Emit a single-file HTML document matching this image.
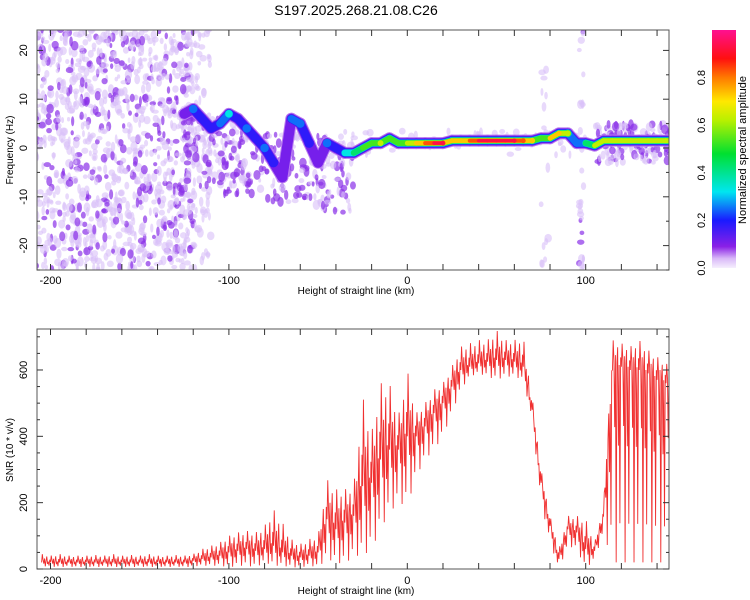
<!DOCTYPE html>
<html><head><meta charset="utf-8"><style>
html,body{margin:0;padding:0;background:#fff;}
svg{display:block;font-family:"Liberation Sans",sans-serif;}
</style></head><body>
<svg id="chart" width="750" height="600" viewBox="0 0 750 600">
<defs>
<linearGradient id="cbar" x1="0" y1="1" x2="0" y2="0">
<stop offset="0" stop-color="#f6effd"/><stop offset="0.04" stop-color="#d9b8f8"/><stop offset="0.09" stop-color="#8a20e6"/>
<stop offset="0.2" stop-color="#1a1aff"/><stop offset="0.32" stop-color="#00e6f0"/><stop offset="0.48" stop-color="#00e030"/>
<stop offset="0.62" stop-color="#b8f000"/><stop offset="0.7" stop-color="#ffe800"/><stop offset="0.8" stop-color="#ff7a00"/>
<stop offset="0.88" stop-color="#ff1010"/><stop offset="1" stop-color="#ff1090"/>
</linearGradient>
<clipPath id="clipTop"><rect x="37" y="30" width="632" height="240"/></clipPath>
<clipPath id="clipBot"><rect x="37" y="329" width="632" height="240"/></clipPath>
</defs>
<text x="356" y="15" font-size="14" text-anchor="middle">S197.2025.268.21.08.C26</text>
<g id="spec" clip-path="url(#clipTop)"></g>
<g id="snr" clip-path="url(#clipBot)"></g>
<g id="axes"></g>
<rect x="712" y="30" width="24" height="238" fill="url(#cbar)"/>
<text transform="translate(746,150) rotate(-90)" font-size="11" text-anchor="middle">Normalized spectral amplitude</text>
</svg>
<script>
// ---- data ----
const ridgeKm   = [-125,-120,-115,-110,-105,-100,-95,-90,-85,-80,-75,-70,-65,-60,-55,-50,-45,-40,-35,-30,-25,-20,-15,-10,-5,0,5,10,15,20,25,30,35,40,45,50,55,60,65,70,75,80,85,90,95,100,105,110,115,120,125,130,135,140,145,150];
const ridgeFreq = [7,8,6,4,5,7,6,4,2,0,-3,-6,6,5,1,-3,1,0,-1,-1,0,1,1,2,1,1,1,1,1,1,1.5,1.5,1.5,1.5,1.5,1.5,1.5,1.5,1.5,1.5,2,2,3,3,1,1,0.5,1.5,1.5,1.5,1.5,1.5,1.5,1.5,1.5,1.5];
const ridgeAmp  = [0.12,0.28,0.16,0.16,0.26,0.3,0.16,0.26,0.18,0.25,0.16,0.14,0.26,0.28,0.16,0.14,0.26,0.18,0.3,0.45,0.5,0.55,0.6,0.55,0.55,0.6,0.75,0.8,0.9,0.9,0.7,0.75,0.85,0.9,0.95,0.95,0.9,0.9,0.85,0.75,0.55,0.7,0.75,0.6,0.25,0.45,0.6,0.65,0.65,0.65,0.65,0.65,0.65,0.65,0.65,0.65];
const snrKm = [-205,-200,-195,-190,-185,-180,-175,-170,-165,-160,-155,-150,-145,-140,-135,-130,-125,-120,-115,-110,-105,-100,-95,-90,-85,-80,-75,-70,-65,-60,-55,-50,-45,-40,-35,-30,-25,-20,-15,-10,-5,0,5,10,15,20,25,30,35,40,45,50,55,60,65,70,75,80,85,90,95,100,105,110,115,120,125,130,135,140,145,150];
const snrHigh = [45,40,45,40,40,40,42,40,45,40,42,40,45,40,40,42,40,45,60,70,80,100,110,115,110,130,180,140,90,75,90,100,270,240,240,250,520,410,560,560,460,600,470,500,540,560,610,670,680,690,690,720,690,690,700,520,300,160,60,160,160,150,80,190,690,680,670,690,660,640,620,600];
const snrMid  = [20,20,20,20,20,20,20,20,20,20,20,20,20,20,20,20,20,25,30,35,40,50,55,60,55,60,70,50,40,35,40,50,150,120,140,160,250,260,330,360,360,400,400,430,470,500,550,600,610,620,625,630,630,625,610,480,260,130,30,120,110,60,55,160,600,610,600,600,590,570,560,540];
const snrLow  = [8,8,5,8,5,8,5,8,5,8,5,8,5,8,5,8,5,8,10,10,10,5,10,10,5,20,10,10,5,5,10,5,30,20,15,40,40,60,120,170,200,190,280,330,360,400,470,540,580,590,580,570,580,580,570,450,200,80,0,70,60,0,30,110,20,20,20,20,20,20,20,20];
const xTicks = [-200,-100,0,100];
const freqTicks = [-20,-10,0,10,20];
const snrTicks = [0,200,400,600];
const cbarTicks = [0.0,0.2,0.4,0.6,0.8];

// ---- scales ----
const NS="http://www.w3.org/2000/svg";
const X0=37,X1=669;
const xs=k=>407.3+k*1.784;
const yf=f=>148-f*4.88;
const ys=v=>569-v*0.3317;
const yc=v=>268-v*238;
function el(tag,attrs,parent){const e=document.createElementNS(NS,tag);for(const k in attrs)e.setAttribute(k,attrs[k]);parent.appendChild(e);return e;}
const stops=[[0,[246,239,253]],[0.04,[217,184,248]],[0.09,[138,32,230]],[0.2,[26,26,255]],[0.32,[0,230,240]],[0.48,[0,224,48]],[0.62,[184,240,0]],[0.7,[255,232,0]],[0.8,[255,122,0]],[0.88,[255,16,16]],[1,[255,16,144]]];
function cmap(v){for(let i=1;i<stops.length;i++){if(v<=stops[i][0]){const a=stops[i-1],b=stops[i];const t=(v-a[0])/(b[0]-a[0]);return 'rgb('+a[1].map((c,j)=>Math.round(c+(b[1][j]-c)*t)).join(',')+')';}}return 'rgb(255,16,144)';}

// ---- spectrogram speckle texture (deterministic) ----
const spec=document.getElementById('spec');
let seed=12345;function rnd(){seed=(seed*1103515245+12345)%2147483648;return seed/2147483648;}
function speck(k,f,strong){
  const e=el('ellipse',{cx:xs(k),cy:yf(f),rx:1.4+rnd()*2.4,ry:2+rnd()*3.2,fill:strong?'#8a30e8':'#d8c0f8','fill-opacity':strong?0.7:0.6},spec);
  
  
}
for(let i=0;i<1100;i++){const k=-208+rnd()*88;const f=-25+rnd()*50;speck(k,f,rnd()<0.25);}
for(let i=0;i<80;i++){const k=-120+rnd()*10;const f=-25+rnd()*50;speck(k,f,false);}
for(let i=0;i<300;i++){const k=-125+rnd()*95;const f=-8+rnd()*15 - (k+125)*0.06;speck(k,f,rnd()<0.5);}
for(let i=0;i<160;i++){const k=105+rnd()*45;const f=-3+rnd()*8;speck(k,f,rnd()<0.5);}
for(let i=0;i<60;i++){const k=-40+rnd()*140;const f=-1.5+rnd()*5;speck(k,f,false);}
for(let i=0;i<30;i++){const k=96+rnd()*3;const f=-25+rnd()*50;speck(k,f,rnd()<0.15);}
for(let i=0;i<16;i++){const k=75+rnd()*4;const f=-25+rnd()*45;speck(k,f,false);}

// ---- ridge ----
const levels=[0.03,0.08,0.15,0.22,0.3,0.4,0.5,0.6,0.7,0.8,0.9];
const widths=[12,10,8.5,7.5,6.6,6,5.4,4.9,4.4,3.9,3.4];
levels.forEach((lv,li)=>{
  const w=widths[li];
  for(let i=0;i<ridgeKm.length-1;i++){
    if(Math.min(ridgeAmp[i],ridgeAmp[i+1])>=lv){
      const l=el('line',{x1:xs(ridgeKm[i]),y1:yf(ridgeFreq[i]),x2:xs(ridgeKm[i+1]),y2:yf(ridgeFreq[i+1]),stroke:cmap(lv+0.03),'stroke-width':w,'stroke-linecap':'round'},spec);
      
      
    }else if(ridgeAmp[i]>=lv){
      const c=el('circle',{cx:xs(ridgeKm[i]),cy:yf(ridgeFreq[i]),r:w/2+0.5,fill:cmap(lv+0.03)},spec);
      
      
    }
  }
});

// ---- SNR series ----
const snr=document.getElementById('snr');
const pattern=[0,1,0.3,-0.3,0.5,-1,0.2,0.8,-0.4,0.1,-0.8,0.4];
let pts=[];
for(let i=0;i<snrKm.length-1;i++){
  const n=pattern.length;
  for(let j=0;j<n;j++){
    const t=j/n;const k=snrKm[i]+(snrKm[i+1]-snrKm[i])*t;
    const L=a=>a[i]+(a[i+1]-a[i])*t;
    const m=L(snrMid),p=pattern[j];
    const v=p>=0?m+p*(L(snrHigh)-m):m+p*(m-L(snrLow));
    pts.push(xs(k).toFixed(2)+','+ys(v).toFixed(1));
  }
}
const pl=el('polyline',{points:pts.join(' '),fill:'none',stroke:'#f03030','stroke-width':0.9},snr);



// ---- axes ----
const ax=document.getElementById('axes');
function frame(top,bot,name){const r=el('rect',{x:X0,y:top,width:X1-X0,height:bot-top,fill:'none',stroke:'#555','stroke-width':1},ax);}
frame(30,270,'top-plot-frame');frame(329,569,'bottom-plot-frame');
function tk(x1,y1,x2,y2){el('line',{x1,y1,x2,y2,stroke:'#333','stroke-width':1},ax);}
[[30,270],[329,569]].forEach(([t,b])=>{
  for(let k=-200;k<=140;k+=20){const x=xs(k);tk(x,b,x,b-6);tk(x,t,x,t+6);}
});
for(let f=-25;f<=20;f+=5){const y=yf(f);const L=f%10===0?6:3;tk(X0,y,X0+L,y);tk(X1,y,X1-L,y);}
for(let v=0;v<=700;v+=50){const y=ys(v);const L=v%200===0?6:3;tk(X0,y,X0+L,y);tk(X1,y,X1-L,y);}
function txt(s,x,y,rot,name,size){const t=el('text',{x:0,y:0,'font-size':size||11,'text-anchor':'middle',transform:'translate('+x+','+y+')'+(rot?' rotate(-90)':'')},ax);t.textContent=s;}
xTicks.forEach(k=>{txt(String(k),xs(k),284,false,'x-tick-label');txt(String(k),xs(k),584,false,'x-tick-label');});
freqTicks.forEach(f=>txt(String(f),27,yf(f),true,'y-tick-label'));
snrTicks.forEach(v=>txt(String(v),27,ys(v),true,'y-tick-label'));
cbarTicks.forEach(v=>txt(v.toFixed(1),705,yc(v),true,'colorbar-tick-label'));
txt('Height of straight line (km)',356,294,false,'x-axis-title',10);
txt('Height of straight line (km)',356,594,false,'x-axis-title',10);
txt('Frequency (Hz)',13,150,true,'y-axis-title',10);
txt('SNR (10 * v/v)',13,450,true,'y-axis-title',10);
</script>
</body></html>
